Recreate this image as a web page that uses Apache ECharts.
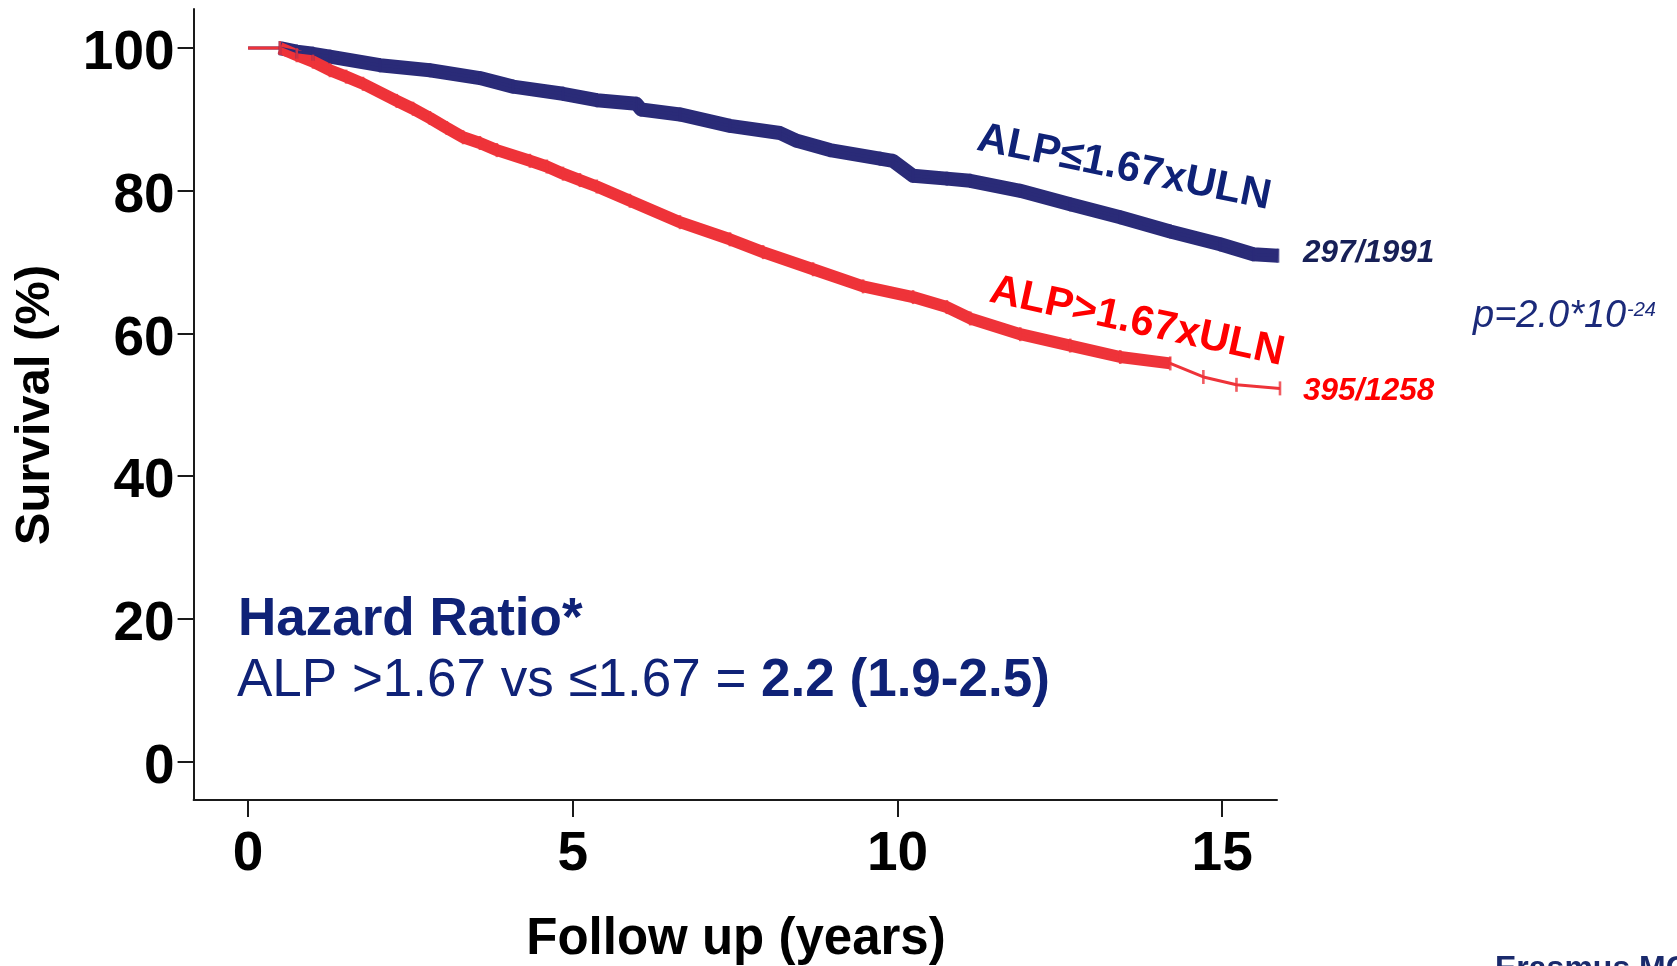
<!DOCTYPE html>
<html>
<head>
<meta charset="utf-8">
<script src="https://cdn.jsdelivr.net/npm/echarts@6/dist/echarts.min.js"></script>
<style>
html,body{margin:0;padding:0;background:#fff;}
#chart{width:1677px;height:966px;}
</style>
</head>
<body>
<div id="chart"></div>
<script>
// ---- data ----
const xTicks = [0, 5, 10, 15];
const yTicks = [0, 20, 40, 60, 80, 100];

// ALP <= 1.67xULN (Kaplan-Meier, time in years, survival %)
const blueT = [0, 0.49, 0.75, 1.0, 1.26, 2.03, 2.80, 3.57, 4.08, 4.85, 5.37, 5.98, 6.05, 6.65, 7.42, 8.19, 8.45, 8.96, 9.73, 9.93, 10.24, 10.76, 11.12, 11.89, 12.66, 13.43, 14.20, 14.97, 15.48, 15.86];
const blueS = [100, 100, 99.5, 99.2, 98.8, 97.6, 96.9, 95.8, 94.6, 93.6, 92.7, 92.2, 91.4, 90.7, 89.1, 88.1, 87.0, 85.7, 84.5, 84.2, 82.1, 81.7, 81.4, 80.0, 78.1, 76.3, 74.3, 72.5, 71.1, 70.9];

// ALP > 1.67xULN
const redT = [0, 0.49, 0.75, 1.0, 1.26, 1.51, 1.77, 2.29, 2.54, 2.80, 3.06, 3.31, 3.57, 3.83, 4.34, 4.60, 4.85, 5.11, 5.37, 5.88, 6.65, 7.42, 7.93, 8.70, 9.47, 10.24, 10.76, 11.12, 11.89, 12.66, 13.43, 14.20, 14.71, 15.22, 15.89];
const redS = [100, 100, 99.0, 98.1, 96.9, 96.0, 95.0, 92.6, 91.5, 90.2, 88.8, 87.5, 86.7, 85.7, 84.2, 83.4, 82.4, 81.5, 80.6, 78.6, 75.6, 73.2, 71.4, 69.0, 66.6, 65.1, 63.7, 62.1, 59.9, 58.3, 56.7, 55.8, 53.9, 52.8, 52.3];

const blueLabel = 'ALP≤1.67xULN';
const redLabel = 'ALP>1.67xULN';
const blueCount = '297/1991';
const redCount = '395/1258';
const pMain = 'p=2.0*10';
const pExp = '-24';
const hrTitle = 'Hazard Ratio*';
const hrPlain = 'ALP >1.67 vs ≤1.67 = ';
const hrBold = '2.2 (1.9-2.5)';
const xName = 'Follow up (years)';
const yName = 'Survival (%)';
const logoText = 'Erasmus MC';

// ---- styling ----
const BLUE_LINE = '#2a2b78';
const RED_LINE = '#ee3339';
const NAVY_TEXT = '#0f2277';
const FONT = '"Liberation Sans", Arial, sans-serif';
const denseRedLimit = 14.3;

const bluePts = blueT.map((t, i) => [t, blueS[i]]);
const redPts = redT.map((t, i) => [t, redS[i]]);

const chart = echarts.init(document.getElementById('chart'), null, {renderer: 'canvas'});

function band(pts, color, width) {
  return {
    type: 'line', data: pts, showSymbol: false, silent: true,
    lineStyle: {color: color, width: width, cap: 'butt', join: 'round'},
    clip: false, z: 2
  };
}
function thin(pts, color) {
  return {
    type: 'line', data: pts, showSymbol: false, silent: true,
    lineStyle: {color: color, width: 3}, clip: false, z: 3
  };
}
function ticks(pts, color) {
  return {
    type: 'scatter', data: pts, symbol: 'rect', symbolSize: [2.6, 14], silent: true,
    itemStyle: {color: color}, clip: false, z: 4
  };
}

const axisCommon = {
  axisLine: {show: true, onZero: false, lineStyle: {color: '#1a1a1a', width: 2}},
  splitLine: {show: false}
};

chart.setOption({
  animation: false,
  backgroundColor: '#ffffff',
  grid: {left: 193.6, top: 9, width: 1083.4, height: 791},
  xAxis: Object.assign({
    type: 'value', min: -0.839, max: 15.844,
    axisTick: {show: true, inside: false, length: 17, customValues: xTicks, lineStyle: {color: '#1a1a1a', width: 2}},
    axisLabel: {customValues: xTicks, margin: 27, fontSize: 55, fontWeight: 'bold', fontFamily: FONT, color: '#000'}
  }, axisCommon),
  yAxis: Object.assign({
    type: 'value', min: -5.397, max: 105.48,
    axisTick: {show: true, inside: false, length: 16, customValues: yTicks, lineStyle: {color: '#1a1a1a', width: 2}},
    axisLabel: {customValues: yTicks, margin: 19, fontSize: 55, fontWeight: 'bold', fontFamily: FONT, color: '#000',
      verticalAlign: 'top', lineHeight: 12}
  }, axisCommon),
  series: [
    band(bluePts.slice(1), BLUE_LINE, 14),
    thin(bluePts, BLUE_LINE),
    ticks(bluePts.slice(1), BLUE_LINE),
    band(redPts.slice(1).filter(p => p[0] <= denseRedLimit), RED_LINE, 12),
    thin(redPts, RED_LINE),
    ticks(redPts.slice(1), RED_LINE)
  ],
  graphic: [
    {type: 'text', x: 35, y: 405, rotation: Math.PI / 2, z: 10,
     style: {text: yName, font: 'bold 49px ' + FONT, fill: '#000', align: 'center', verticalAlign: 'middle'}},
    {type: 'text', x: 736, y: 940, z: 10,
     style: {text: xName, font: 'bold 51px ' + FONT, fill: '#000', align: 'center', verticalAlign: 'middle'}},
    {type: 'text', x: 1124, y: 168, rotation: -11.5 * Math.PI / 180, z: 10,
     style: {text: blueLabel, font: 'bold 42px ' + FONT, fill: NAVY_TEXT, align: 'center', verticalAlign: 'middle'}},
    {type: 'text', x: 1137, y: 322, rotation: -12.3 * Math.PI / 180, z: 10,
     style: {text: redLabel, font: 'bold 42px ' + FONT, fill: '#ff0000', align: 'center', verticalAlign: 'middle'}},
    {type: 'text', x: 1303, y: 253, z: 10,
     style: {text: blueCount, font: 'italic bold 31.5px ' + FONT, fill: '#172057', align: 'left', verticalAlign: 'middle'}},
    {type: 'text', x: 1303, y: 391, z: 10,
     style: {text: redCount, font: 'italic bold 31.5px ' + FONT, fill: '#ff0000', align: 'left', verticalAlign: 'middle'}},
    {type: 'text', x: 1473, y: 316, z: 10,
     style: {text: pMain, font: 'italic 38px ' + FONT, fill: '#1b2a7a', align: 'left', verticalAlign: 'middle'}},
    {type: 'text', x: 1627, y: 310, z: 10,
     style: {text: pExp, font: 'italic 20px ' + FONT, fill: '#1b2a7a', align: 'left', verticalAlign: 'middle'}},
    {type: 'text', x: 238, y: 620, z: 10,
     style: {text: hrTitle, font: 'bold 53px ' + FONT, fill: NAVY_TEXT, align: 'left', verticalAlign: 'middle'}},
    {type: 'text', x: 237, y: 681, z: 10,
     style: {text: '{n|' + hrPlain + '}{b|' + hrBold + '}', align: 'left', verticalAlign: 'middle',
       rich: {
         n: {fontFamily: FONT, fontSize: 53, fill: NAVY_TEXT, color: NAVY_TEXT},
         b: {fontFamily: FONT, fontSize: 53, fontWeight: 'bold', fill: NAVY_TEXT, color: NAVY_TEXT}
       }}},
    {type: 'text', x: 1495, y: 969, z: 10,
     style: {text: logoText, font: 'bold 32px ' + FONT, fill: '#1a2a6c', align: 'left', verticalAlign: 'middle'}}
  ]
});
</script>
</body>
</html>
